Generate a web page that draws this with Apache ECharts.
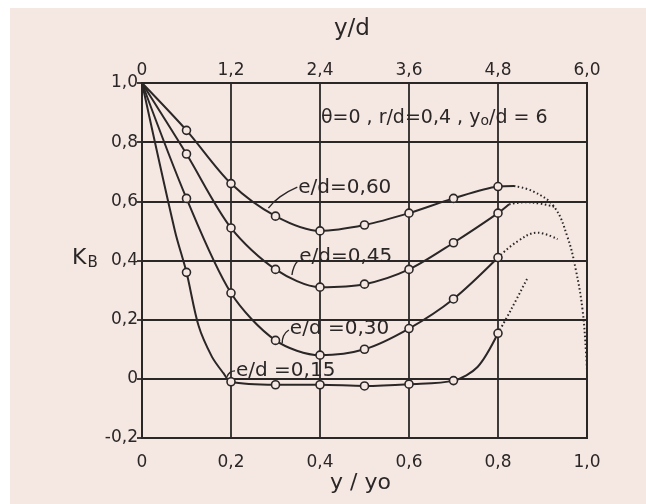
<!DOCTYPE html>
<html>
<head>
<meta charset="utf-8">
<script src="https://cdn.jsdelivr.net/npm/echarts@6/dist/echarts.min.js"></script>
<style>
html,body{margin:0;padding:0;background:#ffffff;}
#c{width:646px;height:504px;}
</style>
</head>
<body>
<div id="c"></div>
<script>
// ---- data ----
const xTicksBottom = [0, 0.2, 0.4, 0.6, 0.8, 1.0];   // y/yo
const xTicksTop = [0, 1.2, 2.4, 3.6, 4.8, 6.0];      // y/d
const yTicks = [-0.2, 0, 0.2, 0.4, 0.6, 0.8, 1.0];   // K_B

// measured points (open circles)
const ed60 = [[0.1,0.84],[0.2,0.66],[0.3,0.55],[0.4,0.50],[0.5,0.52],[0.6,0.56],[0.7,0.61],[0.8,0.65]];
const ed45 = [[0.1,0.76],[0.2,0.51],[0.3,0.37],[0.4,0.31],[0.5,0.32],[0.6,0.37],[0.7,0.46],[0.8,0.56]];
const ed30 = [[0.1,0.61],[0.2,0.29],[0.3,0.13],[0.4,0.08],[0.5,0.10],[0.6,0.17],[0.7,0.27],[0.8,0.41]];
const ed15 = [[0.1,0.36],[0.2,-0.01],[0.3,-0.02],[0.4,-0.02],[0.5,-0.024],[0.6,-0.018],[0.7,-0.006],[0.8,0.154]];

// solid curves (origin + measured + extra traced nodes)
const origin = [0, 1.0];
const ed60Solid = [origin, ...ed60, [0.836,0.652]];
const ed45Solid = [origin, ...ed45, [0.825,0.59]];
const ed30Solid = [origin, ...ed30];
const ed15Solid = [origin, [0.074,0.50], ...ed15.slice(0,1), [0.127,0.18], [0.157,0.075], [0.183,0.019], ...ed15.slice(1,7), [0.754,0.04], ed15[7]];

// dotted extrapolations
const ed60Dotted = [[0.836,0.652],[0.88,0.633],[0.926,0.582],[0.956,0.48],[0.975,0.368],[0.99,0.233],[0.998,0.086],[1.0,0.03]];
const ed45Dotted = [[0.825,0.59],[0.86,0.597],[0.895,0.592],[0.926,0.582]];
const ed30Dotted = [[0.8,0.41],[0.843,0.464],[0.889,0.494],[0.934,0.472]];
const ed15Dotted = [[0.8,0.154],[0.829,0.233],[0.866,0.34]];

// annotation leader lines and texts (data coordinates)
const leader60 = [[0.284,0.577],[0.31,0.615],[0.349,0.648]];
const leader45 = [[0.337,0.351],[0.342,0.38],[0.351,0.40]];
const leader30 = [[0.315,0.12],[0.318,0.145],[0.33,0.165]];
const leader15 = [[0.191,0.007],[0.198,0.022],[0.209,0.027]];
const labels = [
  [0.349, 0.645, 'e/d=0,60'],
  [0.351, 0.412, 'e/d=0,45'],
  [0.33, 0.17, 'e/d =0,30'],
  [0.209, 0.027, 'e/d =0,15']
];
const paramText = [0.402, 0.882];

// ---- chart ----
const INK = '#2b2727';
const PAPER = '#f5e8e3';
const FONT = 'DejaVu Sans';
const fmt = v => (Math.abs(v) < 1e-9 ? '0' : v.toFixed(1).replace('.', ','));

function solid(data){
  return {type:'line', data, smooth:0.3, showSymbol:false, symbol:'none',
    lineStyle:{color:INK, width:2}, z:3, silent:true};
}
function dotted(data){
  return {type:'line', data, smooth:0.4, showSymbol:false, symbol:'none',
    lineStyle:{color:INK, width:2, type:[1.5,2.5]}, z:3, silent:true};
}
function marks(data){
  return {type:'scatter', data, symbol:'circle', symbolSize:8,
    itemStyle:{color:PAPER, borderColor:INK, borderWidth:1.6, opacity:1}, z:5, silent:true};
}
function leader(data){
  return {type:'line', data, smooth:0.5, showSymbol:false, symbol:'none',
    lineStyle:{color:INK, width:1.4}, z:4, silent:true};
}

const chart = echarts.init(document.getElementById('c'), null, {renderer:'canvas'});
chart.setOption({
  backgroundColor:'#ffffff',
  animation:false,
  textStyle:{fontFamily:FONT},
  graphic:[
    {type:'rect', shape:{x:10, y:8, width:636, height:496}, style:{fill:PAPER}, z:-10, silent:true},
    {type:'text', left:334, top:18, style:{text:'y/d', font:'23px "DejaVu Sans"', fill:INK}},
    {type:'text', left:330, top:472, style:{text:'y / yo', font:'22px "DejaVu Sans"', fill:INK}},
    {type:'text', left:72, top:247, style:{text:'{k|K}{b|B}', fill:INK,
      rich:{k:{fontSize:22, fontFamily:FONT, color:INK}, b:{fontSize:15, fontFamily:FONT, color:INK, padding:[10,0,0,1]}}}}
  ],
  grid:{left:142, right:59, top:83, bottom:66, show:true, borderColor:INK, borderWidth:2, backgroundColor:'transparent'},
  xAxis:[
    {type:'value', min:0, max:1, interval:0.2, position:'bottom',
      axisLine:{show:true, lineStyle:{color:INK, width:2}},
      axisTick:{show:false},
      axisLabel:{formatter:fmt, color:INK, fontSize:17, fontFamily:FONT, margin:16},
      splitLine:{show:true, lineStyle:{color:INK, width:1.8}}},
    {type:'value', min:0, max:6, interval:1.2, position:'top',
      axisLine:{show:true, lineStyle:{color:INK, width:2}},
      axisTick:{show:false},
      axisLabel:{formatter:fmt, color:INK, fontSize:17, fontFamily:FONT, margin:4},
      splitLine:{show:false}}
  ],
  yAxis:[
    {type:'value', min:-0.2, max:1.0, interval:0.2,
      axisLine:{show:true, lineStyle:{color:INK, width:2}},
      axisTick:{show:true, length:5, lineStyle:{color:INK, width:1.8}},
      axisLabel:{formatter:fmt, color:INK, fontSize:17, fontFamily:FONT, margin:4},
      splitLine:{show:true, lineStyle:{color:INK, width:1.8}}}
  ],
  series:[
    solid(ed60Solid), solid(ed45Solid), solid(ed30Solid), solid(ed15Solid),
    dotted(ed60Dotted), dotted(ed45Dotted), dotted(ed30Dotted), dotted(ed15Dotted),
    marks(ed60), marks(ed45), marks(ed30), marks(ed15),
    leader(leader60), leader(leader45), leader(leader30), leader(leader15),
    {type:'scatter', data:labels.map(l => ({value:[l[0], l[1]], name:l[2]})), symbolSize:0, z:6, silent:true,
      itemStyle:{opacity:1},
      label:{show:true, position:'right', distance:1, formatter:p => p.name, color:INK, fontSize:20, fontFamily:FONT}},
    {type:'scatter', data:[{value:paramText}], symbolSize:0, z:6, silent:true,
      itemStyle:{opacity:1},
      label:{show:true, position:'right', distance:0, color:INK, fontSize:19, fontFamily:FONT,
        formatter:'θ=0 , r/d=0,4 , {s|y}{o|o}{s|/d = 6}',
        rich:{s:{fontSize:19, fontFamily:FONT, color:INK}, o:{fontSize:14, fontFamily:FONT, color:INK, padding:[6,0,0,0]}}}}
  ]
});
</script>
</body>
</html>
